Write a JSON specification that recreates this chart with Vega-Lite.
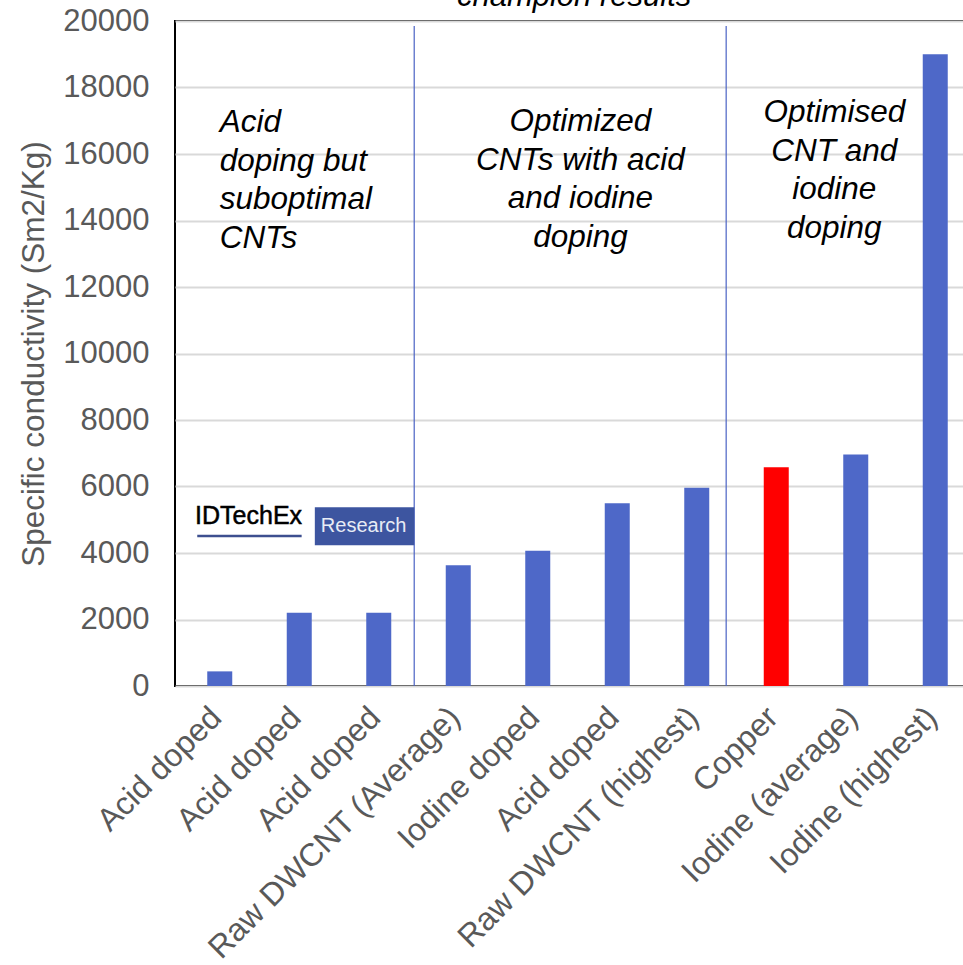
{
  "$schema": "https://vega.github.io/schema/vega-lite/v6.json",
  "width": 805,
  "height": 665,
  "autosize": {"type": "none"},
  "padding": {"left": 175, "top": 21, "right": 0, "bottom": 279},
  "config": {"view": {"stroke": "black", "strokeWidth": 2}, "font": "Liberation Sans"},
  "datasets": {
    "bars": [
      {"pos": 1, "label": "Acid doped", "value": 440, "kind": "cnt"},
      {"pos": 2, "label": "Acid doped", "value": 2200, "kind": "cnt"},
      {"pos": 3, "label": "Acid doped", "value": 2200, "kind": "cnt"},
      {"pos": 4, "label": "Raw DWCNT (Average)", "value": 3630, "kind": "cnt"},
      {"pos": 5, "label": "Iodine doped", "value": 4070, "kind": "cnt"},
      {"pos": 6, "label": "Acid doped", "value": 5500, "kind": "cnt"},
      {"pos": 7, "label": "Raw DWCNT (highest)", "value": 5960, "kind": "cnt"},
      {"pos": 8, "label": "Copper", "value": 6580, "kind": "copper"},
      {"pos": 9, "label": "Iodine (average)", "value": 6960, "kind": "cnt"},
      {"pos": 10, "label": "Iodine (highest)", "value": 19000, "kind": "cnt"}
    ],
    "dividers": [
      {"pos": 3.446, "value": 19850, "value2": 0},
      {"pos": 7.37, "value": 19850, "value2": 0}
    ],
    "titleText": [
      {"pos": 5.457, "value": 20450, "text": "champion results"}
    ],
    "notesLeft": [
      {"pos": 1.0, "value": 16660, "text": ["Acid", "doping but", "suboptimal", "CNTs"]}
    ],
    "notesCenter": [
      {"pos": 5.537, "value": 16690, "text": ["Optimized", "CNTs with acid", "and iodine", "doping"]},
      {"pos": 8.73, "value": 16960, "text": ["Optimised", "CNT and", "iodine", "doping"]}
    ],
    "logoBox": [
      {"pos": 2.196, "pos2": 3.447, "value": 5376, "value2": 4233}
    ],
    "logoUnderline": [
      {"pos": 0.717, "pos2": 2.03, "value": 4510}
    ],
    "logoWord": [
      {"pos": 0.69, "value": 4865, "text": "IDTechEx"}
    ],
    "logoResearch": [
      {"pos": 2.81, "value": 4633, "text": "Research"}
    ]
  },
  "layer": [
    {
      "data": {"name": "bars"},
      "mark": {"type": "bar", "width": 25},
      "encoding": {
        "x": {
          "field": "pos", "type": "quantitative",
          "scale": {"domain": [0.5, 10.5], "nice": false, "zero": false},
          "axis": {
            "title": null,
            "values": [1, 2, 3, 4, 5, 6, 7, 8, 9, 10],
            "labelExpr": "['Acid doped','Acid doped','Acid doped','Raw DWCNT (Average)','Iodine doped','Acid doped','Raw DWCNT (highest)','Copper','Iodine (average)','Iodine (highest)'][datum.value-1]",
            "labelAngle": -45,
            "labelAlign": "right",
            "labelBaseline": "middle",
            "labelFontSize": 32,
            "labelColor": "#595959",
            "labelFont": "Liberation Sans",
            "labelPadding": 26,
            "labelOffset": -4,
            "labelLimit": 0,
            "labelOverlap": false,
            "labelFlush": false,
            "labelBound": false,
            "ticks": false,
            "tickSize": 0,
            "domain": false,
            "grid": false
          }
        },
        "y": {
          "field": "value", "type": "quantitative",
          "scale": {"domain": [0, 20000], "nice": false},
          "axis": {
            "title": "Specific conductivity (Sm2/Kg)",
            "values": [0, 2000, 4000, 6000, 8000, 10000, 12000, 14000, 16000, 18000, 20000],
            "format": "d",
            "grid": true,
            "gridColor": "#d9d9d9",
            "gridWidth": 2,
            "domain": false,
            "ticks": false,
            "tickSize": 0,
            "labelFontSize": 31,
            "labelColor": "#595959",
            "labelFont": "Liberation Sans",
            "labelPadding": 26,
            "titleFontSize": 31.5,
            "titleColor": "#595959",
            "titleFont": "Liberation Sans",
            "titleFontWeight": "normal",
            "titlePadding": 12
          }
        },
        "color": {
          "field": "kind", "type": "nominal",
          "scale": {"domain": ["cnt", "copper"], "range": ["#4e68c8", "#ff0000"]},
          "legend": null
        }
      }
    },
    {
      "data": {"name": "dividers"},
      "mark": {"type": "rule", "color": "#4a62c4", "strokeWidth": 1.2},
      "encoding": {
        "x": {"field": "pos", "type": "quantitative"},
        "y": {"field": "value", "type": "quantitative"},
        "y2": {"field": "value2"}
      }
    },
    {
      "data": {"name": "titleText"},
      "mark": {"type": "text", "align": "center", "baseline": "alphabetic", "fontSize": 31, "fontStyle": "italic", "font": "Liberation Sans", "color": "black", "clip": false},
      "encoding": {
        "x": {"field": "pos", "type": "quantitative"},
        "y": {"field": "value", "type": "quantitative"},
        "text": {"field": "text"}
      }
    },
    {
      "data": {"name": "notesLeft"},
      "mark": {"type": "text", "align": "left", "baseline": "alphabetic", "fontSize": 31.5, "fontStyle": "italic", "font": "Liberation Sans", "lineHeight": 38.5, "color": "black"},
      "encoding": {
        "x": {"field": "pos", "type": "quantitative"},
        "y": {"field": "value", "type": "quantitative"},
        "text": {"field": "text"}
      }
    },
    {
      "data": {"name": "notesCenter"},
      "mark": {"type": "text", "align": "center", "baseline": "alphabetic", "fontSize": 31.5, "fontStyle": "italic", "font": "Liberation Sans", "lineHeight": 38.5, "color": "black"},
      "encoding": {
        "x": {"field": "pos", "type": "quantitative"},
        "y": {"field": "value", "type": "quantitative"},
        "text": {"field": "text"}
      }
    },
    {
      "data": {"name": "logoBox"},
      "mark": {"type": "rect", "color": "#3d55a0"},
      "encoding": {
        "x": {"field": "pos", "type": "quantitative"},
        "x2": {"field": "pos2"},
        "y": {"field": "value", "type": "quantitative"},
        "y2": {"field": "value2"}
      }
    },
    {
      "data": {"name": "logoUnderline"},
      "mark": {"type": "rule", "color": "#3d4f8f", "strokeWidth": 2.5},
      "encoding": {
        "x": {"field": "pos", "type": "quantitative"},
        "x2": {"field": "pos2"},
        "y": {"field": "value", "type": "quantitative"}
      }
    },
    {
      "data": {"name": "logoWord"},
      "mark": {"type": "text", "align": "left", "baseline": "alphabetic", "fontSize": 25, "font": "Liberation Sans", "letterSpacing": -0.8, "color": "#000000", "stroke": "#000000", "strokeWidth": 0.5},
      "encoding": {
        "x": {"field": "pos", "type": "quantitative"},
        "y": {"field": "value", "type": "quantitative"},
        "text": {"field": "text"}
      }
    },
    {
      "data": {"name": "logoResearch"},
      "mark": {"type": "text", "align": "center", "baseline": "alphabetic", "fontSize": 20, "font": "Liberation Sans", "color": "#e8ecf5"},
      "encoding": {
        "x": {"field": "pos", "type": "quantitative"},
        "y": {"field": "value", "type": "quantitative"},
        "text": {"field": "text"}
      }
    }
  ]
}
